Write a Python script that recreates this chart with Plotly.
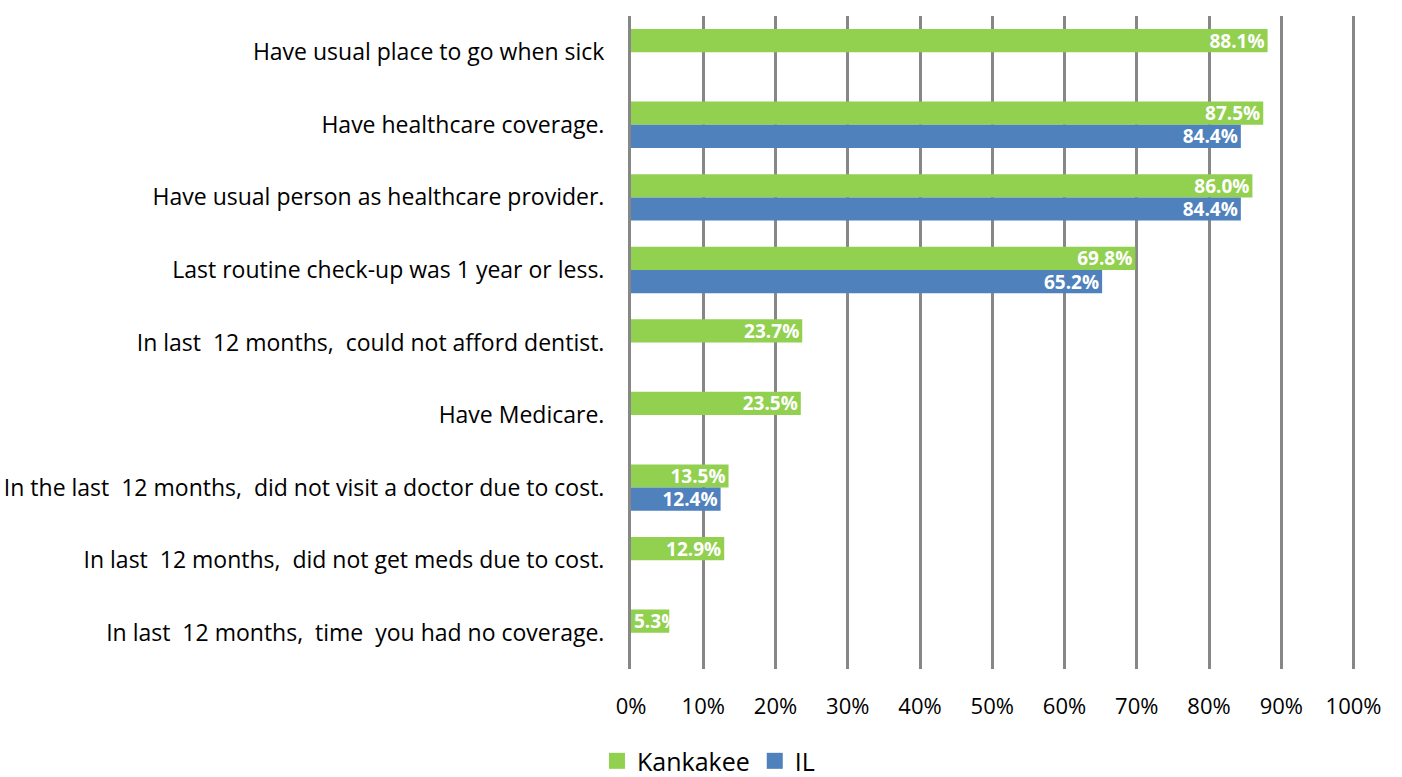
import plotly.graph_objects as go

categories = [
    "Have usual place to go when sick",
    "Have healthcare coverage.",
    "Have usual person as healthcare provider.",
    "Last routine check-up was 1 year or less.",
    "In last  12 months,  could not afford dentist.",
    "Have Medicare.",
    "In the last  12 months,  did not visit a doctor due to cost.",
    "In last  12 months,  did not get meds due to cost.",
    "In last  12 months,  time  you had no coverage.",
]
kankakee = [88.1, 87.5, 86.0, 69.8, 23.7, 23.5, 13.5, 12.9, 5.3]
il = [None, 84.4, 84.4, 65.2, None, None, 12.4, None, None]
tick_vals = [0, 10, 20, 30, 40, 50, 60, 70, 80, 90, 100]
tick_text = [f"{v}%" for v in tick_vals]

FONT = "Open Sans"
GREEN = "#92D050"
BLUE = "#4F81BD"
SMALL = 8  # bars narrower than this (in %) get their label anchored at the start


def labels(values):
    return [f"{v:.1f}%" if v is not None else "" for v in values]


def bar(vals, color, group, anchor):
    return go.Bar(
        y=categories,
        x=vals,
        orientation="h",
        offsetgroup=group,
        marker=dict(color=color, line=dict(width=0)),
        text=labels(vals),
        textposition="inside",
        insidetextanchor=anchor,
        constraintext="none",
        textfont=dict(family=FONT, size=19, color="white", weight="bold"),
        showlegend=False,
        hoverinfo="x+y",
    )


k_big = [v if v >= SMALL else None for v in kankakee]
k_small = [v if v < SMALL else None for v in kankakee]

fig = go.Figure()
fig.add_trace(bar(k_big, GREEN, "k", "end"))
fig.add_trace(bar(k_small, GREEN, "k", "start"))
fig.add_trace(bar(il, BLUE, "i", "end"))

# legend-only entries with bigger square swatches
for name, color in [("Kankakee", GREEN), ("IL", BLUE)]:
    fig.add_trace(
        go.Scatter(
            x=[None],
            y=[None],
            mode="markers",
            name=name,
            marker=dict(symbol="square", size=17, color=color),
            showlegend=True,
        )
    )

fig.update_xaxes(
    range=[0, 100.2],
    tickvals=tick_vals,
    ticktext=tick_text,
    showgrid=True,
    gridcolor="#878787",
    gridwidth=3,
    zeroline=False,
    showline=False,
    ticks="outside",
    ticklen=18,
    tickcolor="rgba(0,0,0,0)",
    tickfont=dict(family=FONT, size=22, color="black"),
    automargin=False,
)
fig.update_yaxes(
    autorange="reversed",
    showgrid=False,
    showline=True,
    linecolor="#878787",
    linewidth=3,
    ticks="outside",
    ticklen=19,
    tickcolor="rgba(0,0,0,0)",
    tickfont=dict(family=FONT, size=23, color="black"),
    automargin=False,
)

fig.update_layout(
    barmode="group",
    bargap=0.36,
    bargroupgap=0,
    width=1402,
    height=777,
    margin=dict(l=631, r=47, t=16, b=108, autoexpand=False),
    plot_bgcolor="white",
    paper_bgcolor="white",
    legend=dict(
        orientation="h",
        x=0.107,
        xanchor="center",
        y=-0.141,
        yanchor="middle",
        font=dict(family=FONT, size=25, color="black"),
        traceorder="normal",
        itemwidth=30,
        tracegroupgap=0,
    ),
)

fig.write_html(
    "out.html",
    config={"displayModeBar": False},
    post_script="document.body.style.margin='0';",
)
